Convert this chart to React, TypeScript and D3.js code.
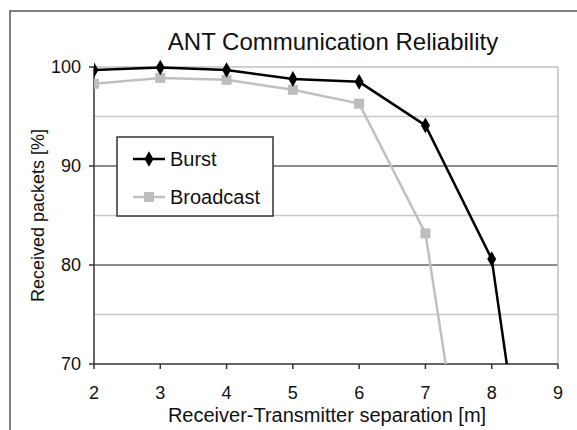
import React from 'react';
import * as d3 from 'd3';

const xValues = [2, 3, 4, 5, 6, 7, 8, 9];
const burst = [99.7, 99.95, 99.7, 98.8, 98.5, 94.1, 80.6, 34];
const broadcast = [98.3, 98.9, 98.7, 97.7, 96.3, 83.2, 40, 10];
const xTicks = [2, 3, 4, 5, 6, 7, 8, 9];
const yTicks = [70, 80, 90, 100];
const minorGrid = [75, 85, 95];

const width = 577;
const height = 430;
const margin = { top: 67, right: 19, bottom: 66, left: 94 };
const font = '"Liberation Sans", Arial, sans-serif';

export default function App() {
  const x = d3.scaleLinear().domain([2, 9]).range([margin.left, width - margin.right]);
  const y = d3.scaleLinear().domain([70, 100]).range([height - margin.bottom, margin.top]);

  const line = d3.line<number>()
    .x((_, i) => x(xValues[i]))
    .y(d => y(d));

  const diamond = d3.symbol().type(d3.symbolDiamond).size(70)();
  const square = d3.symbol().type(d3.symbolSquare).size(100)();

  const x0 = x.range()[0];
  const x1 = x.range()[1];
  const y0 = y.range()[0];
  const y1 = y.range()[1];

  return (
    <svg width={width} height={height} style={{ position: 'absolute', left: 0, top: 0, background: '#fff' }} fontFamily={font}>
      <defs>
        <clipPath id="plot">
          <rect x={x0} y={y1 - 10} width={x1 - x0 + 2} height={y0 - y1 + 10} />
        </clipPath>
      </defs>
      {/* outer frame */}
      <rect x={10} y={11} width={width + 10} height={height + 10} fill="#fff" stroke="#555" strokeWidth={1.5} />

      <text x={333} y={50} textAnchor="middle" fontSize={24} fill="#111">ANT Communication Reliability</text>

      {/* grid */}
      {minorGrid.map(v => (
        <line key={'m' + v} x1={x0} x2={x1} y1={y(v)} y2={y(v)} stroke="#c8c8c8" strokeWidth={1.5} />
      ))}
      {[80, 90].map(v => (
        <line key={'g' + v} x1={x0} x2={x1} y1={y(v)} y2={y(v)} stroke="#666" strokeWidth={1.5} />
      ))}
      <line x1={x0} x2={x1} y1={y(100)} y2={y(100)} stroke="#c0c0c0" strokeWidth={1.5} />
      <line x1={x1} x2={x1} y1={y1} y2={y0} stroke="#c0c0c0" strokeWidth={1.5} />

      {/* axes */}
      <line x1={x0} x2={x0} y1={y1} y2={y0} stroke="#333" strokeWidth={1.5} />
      <line x1={x0} x2={x1} y1={y0} y2={y0} stroke="#333" strokeWidth={1.5} />
      {xTicks.map(t => (
        <g key={'x' + t}>
          <line x1={x(t)} x2={x(t)} y1={y0} y2={y0 + 5} stroke="#333" strokeWidth={1.5} />
          <text x={x(t)} y={399} textAnchor="middle" fontSize={18} fill="#111">{t}</text>
        </g>
      ))}
      {yTicks.map(t => (
        <g key={'y' + t}>
          <line x1={x0 - 5} x2={x0} y1={y(t)} y2={y(t)} stroke="#333" strokeWidth={1.5} />
          <text x={81} y={y(t) + 6} textAnchor="end" fontSize={18} fill="#111">{t}</text>
        </g>
      ))}

      <text x={327} y={422} textAnchor="middle" fontSize={20} fill="#111">Receiver-Transmitter separation [m]</text>
      <text transform={`translate(44,${(y0 + y1) / 2}) rotate(-90)`} textAnchor="middle" fontSize={18} fill="#111">Received packets [%]</text>

      {/* series */}
      <g clipPath="url(#plot)">
        <path d={line(broadcast) || ''} fill="none" stroke="#c0c0c0" strokeWidth={2.5} />
        {broadcast.map((v, i) => v >= 70 && (
          <path key={'b' + i} d={square || ''} transform={`translate(${x(xValues[i])},${y(v)})`} fill="#bdbdbd" />
        ))}
        <path d={line(burst) || ''} fill="none" stroke="#000" strokeWidth={2.5} />
        {burst.map((v, i) => v >= 70 && (
          <path key={'u' + i} d={diamond || ''} transform={`translate(${x(xValues[i])},${y(v)})`} fill="#000" />
        ))}
      </g>

      {/* legend */}
      <g>
        <rect x={117} y={137} width={156} height={79} fill="#fff" stroke="#333" strokeWidth={1.5} />
        <line x1={133} x2={165} y1={159} y2={159} stroke="#000" strokeWidth={2.5} />
        <path d={diamond || ''} transform="translate(149,159)" fill="#000" />
        <text x={170} y={166} fontSize={20} fill="#111">Burst</text>
        <line x1={133} x2={165} y1={197} y2={197} stroke="#c0c0c0" strokeWidth={2.5} />
        <path d={square || ''} transform="translate(149,197)" fill="#bdbdbd" />
        <text x={170} y={204} fontSize={20} fill="#111">Broadcast</text>
      </g>
    </svg>
  );
}
